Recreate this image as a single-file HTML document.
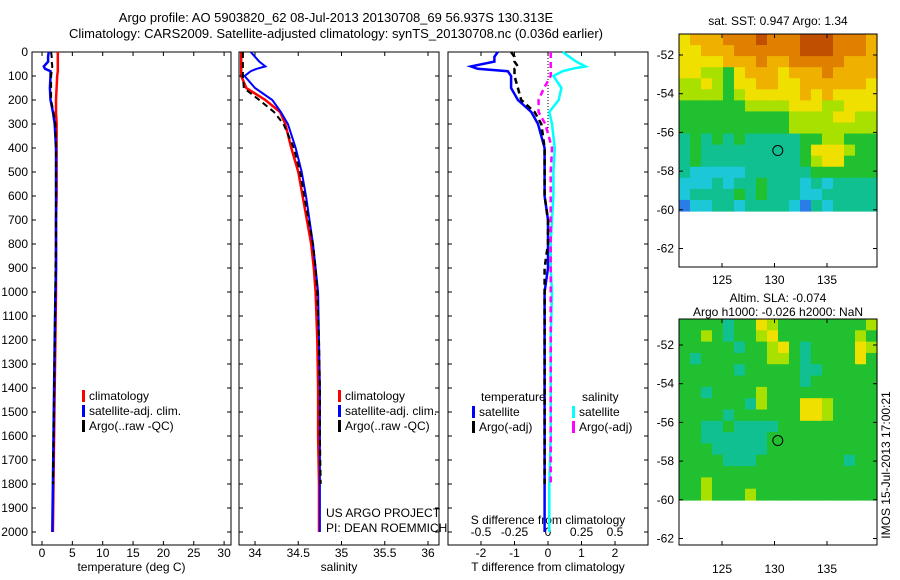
<!DOCTYPE html>
<html><head><meta charset="utf-8"><style>
body{margin:0;background:#fff;}
svg{display:block;font-family:"Liberation Sans",sans-serif;}
</style></head><body>
<svg id="c" width="900" height="580"></svg>
<script>
const depths=[0,20,40,60,70,80,100,150,200,250,300,400,500,600,700,800,900,1000,1200,1400,1600,1800,2000];
const climT=[2.6,2.6,2.6,2.6,2.6,2.6,2.5,2.4,2.3,2.3,2.4,2.4,2.4,2.4,2.3,2.3,2.3,2.3,2.2,2.1,2.0,1.9,1.8];
const satT=[1.1,1.0,1.0,0.3,0.5,1.4,1.4,1.3,1.4,1.8,2.1,2.3,2.3,2.3,2.3,2.3,2.3,2.2,2.1,2.0,1.9,1.8,1.7];
const argoT=[1.5,1.6,1.6,1.7,1.6,1.6,1.5,1.5,1.5,1.9,2.2,2.3,2.3,2.3,2.3,2.3,2.2,2.2,2.1,2.0,1.9,1.8,1.7];
const climS=[33.84,33.84,33.84,33.84,33.84,33.84,33.84,33.9,34.12,34.29,34.35,34.42,34.5,34.55,34.6,34.65,34.68,34.7,34.72,34.73,34.73,34.74,34.74];
const satS=[33.95,34.0,34.05,34.12,34.02,33.95,33.88,34.0,34.2,34.3,34.38,34.47,34.54,34.59,34.63,34.67,34.7,34.73,34.74,34.75,34.75,34.75,34.75];
const argoS=[33.86,33.86,33.86,33.86,33.86,33.86,33.86,33.87,34.05,34.22,34.33,34.45,34.52,34.57,34.62,34.67,34.7,34.72,34.74,34.75,34.75,34.76,34.76];
const depthTicks=[0,100,200,300,400,500,600,700,800,900,1000,1100,1200,1300,1400,1500,1600,1700,1800,1900,2000];
const tTicks=[0,5,10,15,20,25,30];
const sTicks=[34,34.5,35,35.5,36];
const dTTicks=[-2,-1,0,1,2];
const dSTicks=[-0.5,-0.25,0,0.25,0.5];
const dSLabels=["-0.5","-0.25","0","0.25","0.5"];
const lonTicks=[125,130,135];
const latTicks=[-52,-54,-56,-58,-60,-62];
const sstGrid=["677788898889998887","667778888889998887","666677787788888777","665546777677787777","556546677667777776","555545666667676666","444444555566655666","444444444455556655","444444444455555555","343434333334455444","343333333334666544","343333333334566444","322222333333444444","222323343332323333","233334343332233333","122332333321323333"];
const slaGrid=["444434465444444445","445434456444444454","444443445643444465","434444445543444464","444443444443344444","444444444443444444","443444454444444444","444444354446654444","444434444446654444","443343333444444444","443333334444444444","444333334444444444","444433344444444344","444444444444444444","445444444444444444","445444544444444444"];
const cmap=["#1040e0","#2a7de6","#1cc8d8","#10c090","#20c030","#a8e000","#f0e000","#f0b000","#e08000","#c05000"];

const NS="http://www.w3.org/2000/svg";
const svg=document.getElementById('c');
function mk(tag,attrs,parent){const e=document.createElementNS(NS,tag);for(const k in attrs)e.setAttribute(k,attrs[k]);(parent||svg).appendChild(e);return e;}
function txt(x,y,s,anchor,size,parent){const t=mk('text',{x:x,y:y,'text-anchor':anchor||'start','font-size':size||12,fill:'#000'},parent);t.textContent=s;return t;}
const yD=d=>52+d*0.24;
const panels=[{x0:32,x1:231,f:v=>42+v*6.07,name:'temperature-panel'},{x0:239,x1:439,f:v=>255+(v-34)*86.5,name:'salinity-panel'},{x0:448,x1:648,f:v=>548+v*33.5,name:'difference-panel'}];
panels.forEach(p=>{
  const g=mk('g',{});
  
  
  const r=mk('rect',{x:p.x0,y:52,width:p.x1-p.x0,height:493,fill:'none',stroke:'#000','stroke-width':1},g);
  
  p.g=g;
});
const ya=mk('g',{});
depthTicks.forEach(d=>{const y=yD(d);txt(28,y+4,String(d),'end',12,ya);
 panels.forEach(p=>{mk('line',{x1:p.x0,x2:p.x0+4,y1:y,y2:y,stroke:'#000'},ya);mk('line',{x1:p.x1-4,x2:p.x1,y1:y,y2:y,stroke:'#000'},ya);});});
function xticks(p,vals,labels,ly,title){const g=mk('g',{},p.g);
 vals.forEach((v,i)=>{const x=p.f(v);mk('line',{x1:x,x2:x,y1:545,y2:541,stroke:'#000'},g);mk('line',{x1:x,x2:x,y1:52,y2:56,stroke:'#000'},g);txt(x,ly,labels?labels[i]:String(v),'middle',12,g);});
 if(title){const t=txt((p.x0+p.x1)/2,571,title,'middle',12,g);}}
xticks(panels[0],tTicks,null,557,'temperature (deg C)');
xticks(panels[1],sTicks,null,557,'salinity');
xticks(panels[2],dTTicks,null,557,'T difference from climatology');
const fS=v=>548+v*134;
dSLabels.forEach((l,i)=>txt(fS(dSTicks[i]),536,l,'middle',12,panels[2].g));
txt(548,524,'S difference from climatology','middle',12,panels[2].g);
function line(p,vals,f,color,dash,w,name,maxD){const pts=vals.map((v,i)=>depths[i]<= (maxD||3000)?f(v).toFixed(1)+','+yD(depths[i]).toFixed(1):null).filter(x=>x).join(' ');
 const pl=mk('polyline',{points:pts,fill:'none',stroke:color,'stroke-width':w||2,'stroke-dasharray':dash||'none'},p.g);
 }
const f0=panels[0].f,f1=panels[1].f,f2=panels[2].f;
line(panels[0],climT,f0,'#f00',null,2.5,'climatology-temperature-line');
line(panels[0],satT,f0,'#00f',null,2.5,'satellite-temperature-line');
line(panels[0],argoT,f0,'#000','6,4',2,'argo-temperature-line',1900);
line(panels[1],climS,f1,'#f00',null,2.5,'climatology-salinity-line');
line(panels[1],satS,f1,'#00f',null,2,'satellite-salinity-line');
line(panels[1],argoS,f1,'#000','6,4',2,'argo-salinity-line',1900);
mk('line',{x1:548,x2:548,y1:52,y2:yD(330),stroke:'#000','stroke-dasharray':'1,2'},panels[2].g);
line(panels[2],satT.map((v,i)=>v-climT[i]),f2,'#00f',null,2.5,'satellite-t-diff-line');
line(panels[2],satS.map((v,i)=>v-climS[i]),fS,'#0ff',null,2.5,'satellite-s-diff-line');
line(panels[2],argoT.map((v,i)=>v-climT[i]),f2,'#000','6,4',2.5,'argo-t-diff-line',1900);
line(panels[2],argoS.map((v,i)=>v-climS[i]),fS,'#f0f','6,4',2.5,'argo-s-diff-line',1900);
function legend(p,x,y,items){const g=mk('g',{},p.g);
 items.forEach((it,i)=>{const yy=y+i*15;mk('rect',{x:x,y:yy-9,width:3,height:12,fill:it[0]},g);const t=txt(x+7,yy+1,it[1],'start',12,g);});}
legend(panels[0],82,399,[['#f00','climatology'],['#00f','satellite-adj. clim.'],['#000','Argo(..raw -QC)']]);
legend(panels[1],338,399,[['#f00','climatology'],['#00f','satellite-adj. clim.'],['#000','Argo(..raw -QC)']]);
txt(481,401,'temperature','start',12,panels[2].g);txt(582,401,'salinity','start',12,panels[2].g);
legend(panels[2],472,415,[['#00f','satellite'],['#000','Argo(-adj)']]);
legend(panels[2],572,415,[['#0ff','satellite'],['#f0f','Argo(-adj)']]);
txt(326,517,'US ARGO PROJECT','start',12);txt(326,532,'PI: DEAN ROEMMICH','start',12);
const t1=txt(336,22,'Argo profile: AO 5903820_62 08-Jul-2013 20130708_69 56.937S 130.313E','middle',13);
const t2=txt(336,38,'Climatology: CARS2009. Satellite-adjusted climatology: synTS_20130708.nc (0.036d earlier)','middle',13);
function map(y0,y1,yDataEnd,lat52,grid,name,titles,titleYs,lonY){
 const g=mk('g',{});
 const x0=679,x1=877,rows=grid.length,cols=grid[0].length;const cw=(x1-x0)/cols,ch=(yDataEnd-y0)/rows;
 grid.forEach((row,r)=>{for(let c=0;c<cols;c++){const cell=mk('rect',{x:(x0+c*cw).toFixed(2),y:(y0+r*ch).toFixed(2),width:(cw+0.6).toFixed(2),height:(ch+0.6).toFixed(2),fill:cmap[+row[c]]},g);
  }});
 mk('rect',{x:x0,y:y0,width:x1-x0,height:y1-y0,fill:'none',stroke:'#000'},g);
 const latY=l=>lat52+(-52-l)*19.35;const lonX=l=>722+(l-125)*10.5;
 latTicks.forEach(l=>{const y=latY(l);mk('line',{x1:x0,x2:x0+4,y1:y,y2:y,stroke:'#000'},g);mk('line',{x1:x1-4,x2:x1,y1:y,y2:y,stroke:'#000'},g);txt(x0-5,y+4,String(l),'end',12,g);});
 lonTicks.forEach(l=>{const x=lonX(l);mk('line',{x1:x,x2:x,y1:y1,y2:y1-4,stroke:'#000'},g);mk('line',{x1:x,x2:x,y1:y0,y2:y0+4,stroke:'#000'},g);txt(x,lonY,String(l),'middle',12,g);});
 const c=mk('circle',{cx:lonX(130.313),cy:latY(-56.937),r:5,fill:'none',stroke:'#000'},g);
 titles.forEach((s,i)=>txt(778,titleYs[i],s,'middle',12,g));
}
map(34,267,211,55,sstGrid,'sst-map',['sat. SST: 0.947 Argo: 1.34'],[25],284);
map(319,545,500,345,slaGrid,'sla-map',['Altim. SLA: -0.074','Argo h1000: -0.026 h2000: NaN'],[302,316],573);
const side=txt(0,0,'IMOS 15-Jul-2013 17:00:21','middle',12);side.setAttribute('transform','translate(890,465) rotate(-90)');

</script>
</body></html>
